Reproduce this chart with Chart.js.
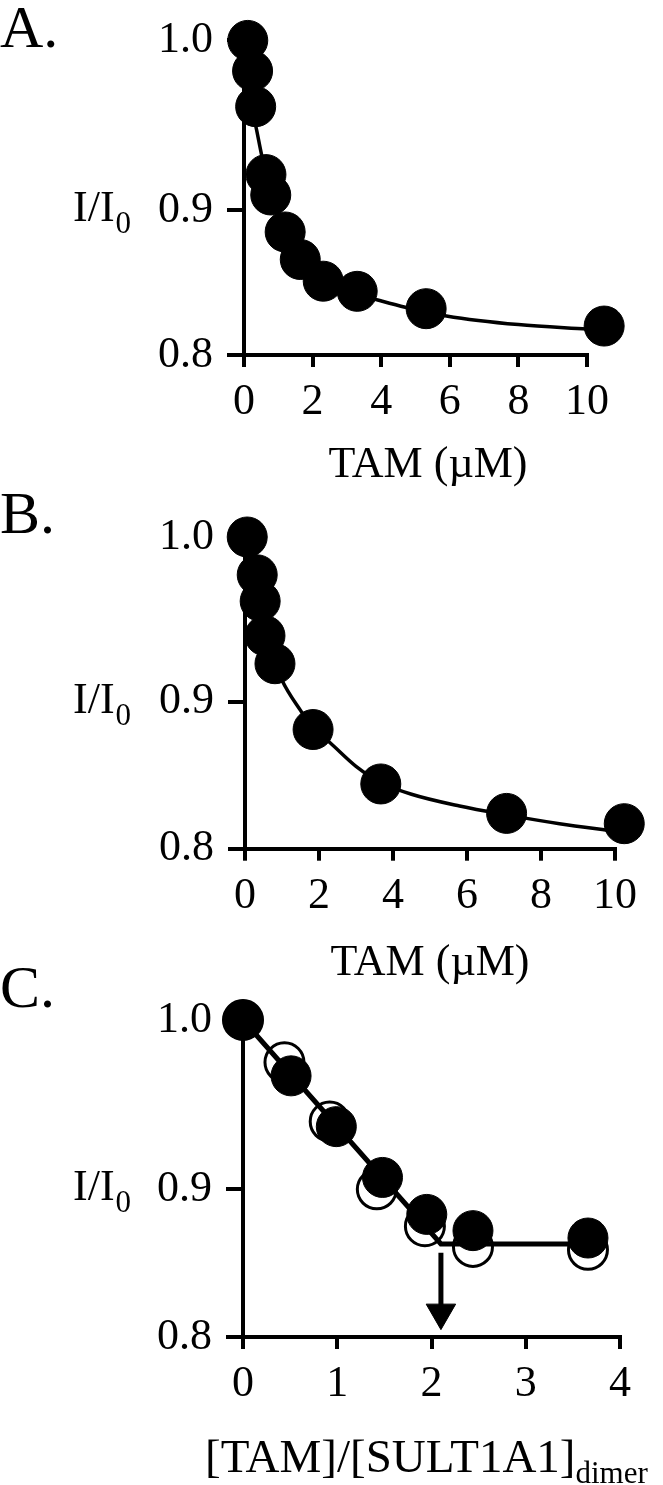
<!DOCTYPE html>
<html>
<head>
<meta charset="utf-8">
<style>
  body { margin: 0; background: #fff; }
  #wrap { position: relative; width: 663px; height: 1485px; overflow: hidden; background: #fff; }
  canvas { position: absolute; left: 0; }
</style>
</head>
<body>
<div id="wrap">
  <canvas id="chartA" width="663" height="490" style="top:0px"></canvas>
  <canvas id="chartB" width="663" height="510" style="top:480px"></canvas>
  <canvas id="chartC" width="663" height="535" style="top:950px"></canvas>
</div>

<script src="https://cdn.jsdelivr.net/npm/chart.js"></script>

<script>
    // tick labels
    const yTicks = [0.8, 0.9, 1.0];
    const xTicksAB = [0, 2, 4, 6, 8, 10];
    const xTicksC = [0, 1, 2, 3, 4];

    // panel A - TAM titration
    const tamA = [0.11, 0.25, 0.34, 0.64, 0.78, 1.2, 1.64, 2.31, 3.3, 5.31, 10.5];
    const ratioA = [1.000, 0.982, 0.961, 0.921, 0.909, 0.885, 0.866, 0.851, 0.844, 0.832, 0.820];
    const fitTamA = [0, 0.1, 0.2, 0.35, 0.52, 0.8, 1.2, 1.6, 2.3, 3.3, 3.9, 4.7, 5.9, 8.0, 10];
    const fitRatioA = [1.0, 0.976, 0.962, 0.949, 0.932, 0.909, 0.886, 0.869, 0.853, 0.842, 0.838, 0.833, 0.827, 0.821, 0.818];

    // panel B
    const tamB = [0.06, 0.33, 0.41, 0.54, 0.81, 1.84, 3.67, 7.07, 10.25];
    const ratioB = [1.000, 0.977, 0.961, 0.940, 0.923, 0.881, 0.844, 0.824, 0.817];
    const fitTamB = [0, 0.33, 0.54, 0.81, 1.0, 1.5, 1.84, 2.3, 3.0, 3.67, 4.5, 5.8, 7.07, 8.5, 10];
    const fitRatioB = [0.995, 0.974, 0.945, 0.924, 0.913, 0.894, 0.882, 0.872, 0.856, 0.845, 0.837, 0.829, 0.823, 0.817, 0.812];

    // panel C - [TAM]/[SULT1A1]dimer
    const eqFilledC = [0, 0.51, 0.99, 1.48, 1.95, 2.44, 3.66];
    const ratioFilledC = [1.000, 0.967, 0.937, 0.907, 0.883, 0.872, 0.867];
    const eqOpenC = [0, 0.44, 0.92, 1.42, 1.93, 2.44, 3.66];
    const ratioOpenC = [1.000, 0.975, 0.940, 0.900, 0.875, 0.861, 0.859];
    const segEqC = [0, 2.1, 3.66];
    const segRatioC = [1.0, 0.863, 0.863];
    const arrowEqC = [2.1, 2.1];
    const arrowRatioC = [0.857, 0.8165];

    const pts = (xs, ys) => xs.map((x, i) => ({ x: x, y: ys[i] }));

    Chart.defaults.font.family = '"Liberation Serif", "Times New Roman", serif';
    Chart.defaults.color = '#000';

    // the y axis in the figure is not even: 0.9-1.0 takes more room than 0.8-0.9
    class KneeScale extends Chart.LinearScale {
        static id = 'knee';
        decFor(v) {
            const k = this.options.knee, s = this.options.lowerShare;
            if (v <= k) return (v - this.min) / (k - this.min) * s;
            return s + (v - k) / (this.max - k) * (1 - s);
        }
        getPixelForValue(v) {
            if (v === null || isNaN(v)) return NaN;
            return this.getPixelForDecimal(this.decFor(v));
        }
        getValueForPixel(p) {
            const d = this.getDecimalForPixel(p), k = this.options.knee, s = this.options.lowerShare;
            return d <= s ? this.min + d / s * (k - this.min) : k + (d - s) / (1 - s) * (this.max - k);
        }
    }
    Chart.register(KneeScale);

    const panelText = {
        id: 'panelText',
        afterDraw(chart, args, o) {
            const ctx = chart.ctx;
            ctx.save();
            ctx.fillStyle = '#000';
            ctx.textBaseline = 'alphabetic';
            ctx.textAlign = 'left';
            ctx.font = '60px "Liberation Serif"';
            ctx.fillText(o.letter, 0, o.letterY);

            const yb = chart.scales.y.getPixelForValue(0.9) + 11;
            ctx.font = '44px "Liberation Serif"';
            ctx.fillText('I/I', 73, yb);
            const w = ctx.measureText('I/I').width;
            ctx.font = '31px "Liberation Serif"';
            ctx.fillText('0', 73 + w + 1, yb + 12);

            ctx.font = o.xSize + 'px "Liberation Serif"';
            const tw = ctx.measureText(o.xTitle).width;
            const left = o.xLeft !== undefined ? o.xLeft : o.xCenter - tw / 2;
            ctx.fillText(o.xTitle, left, o.xTitleY);
            if (o.xSub) {
                ctx.font = Math.round(o.xSize * 0.66) + 'px "Liberation Serif"';
                ctx.fillText(o.xSub, left + tw, o.xTitleY + 11);
            }
            ctx.restore();
        }
    };

    function makeChart(id, c) {
        const h = document.getElementById(id).height;
        return new Chart(document.getElementById(id), {
            type: 'scatter',
            data: { datasets: c.datasets },
            options: {
                responsive: false,
                animation: false,
                events: [],
                layout: { autoPadding: false, padding: { top: c.top, right: 663 - c.right, bottom: 0, left: 0 } },
                plugins: { legend: { display: false }, tooltip: { enabled: false }, panelText: c.text },
                scales: {
                    x: {
                        type: 'linear', min: 0, max: c.xMax,
                        afterFit: s => { s.height = h - c.bottom; },
                        afterBuildTicks: s => { s.ticks = c.xTicks.map(v => ({ value: v })); },
                        border: { color: '#000', width: 4 },
                        grid: { drawOnChartArea: false, color: '#000', lineWidth: 4, tickLength: 12 },
                        ticks: { padding: 9, font: { size: 44 }, color: '#000', maxRotation: 0, autoSkip: false }
                    },
                    y: {
                        type: 'knee', min: 0.8, max: 1.0, knee: 0.9, lowerShare: c.share,
                        afterFit: s => { s.width = c.left; },
                        afterBuildTicks: s => { s.ticks = yTicks.map(v => ({ value: v })); },
                        border: { color: '#000', width: 4 },
                        grid: { drawOnChartArea: false, color: '#000', lineWidth: 4, tickLength: 17 },
                        ticks: { padding: 14, font: { size: 44 }, color: '#000', callback: v => v.toFixed(1) }
                    }
                }
            },
            plugins: [panelText]
        });
    }

    const dots = (data) => ({
        data: data, showLine: false, pointRadius: 20, pointBackgroundColor: '#000',
        pointBorderColor: '#000', pointBorderWidth: 1, order: 0, clip: false
    });
    const curve = (data, width) => ({
        data: data, showLine: true, pointRadius: 0, borderColor: '#000', borderWidth: width,
        cubicInterpolationMode: 'monotone', order: 1, clip: false
    });

    makeChart('chartA', {
        top: 40, bottom: 355, left: 244, right: 587, share: 0.46, xMax: 10, xTicks: xTicksAB,
        datasets: [dots(pts(tamA, ratioA)), curve(pts(fitTamA, fitRatioA), 3.5)],
        text: { letter: 'A.', letterY: 47, xTitle: 'TAM (\u00b5M)', xSize: 44, xCenter: 428, xTitleY: 477 }
    });

    makeChart('chartB', {
        top: 57, bottom: 368.7, left: 245, right: 615, share: 0.472, xMax: 10, xTicks: xTicksAB,
        datasets: [dots(pts(tamB, ratioB)), curve(pts(fitTamB, fitRatioB), 3.5)],
        text: { letter: 'B.', letterY: 53, xTitle: 'TAM (\u00b5M)', xSize: 44, xCenter: 430, xTitleY: 495 }
    });

    makeChart('chartC', {
        top: 70, bottom: 387, left: 243, right: 620, share: 0.466, xMax: 4, xTicks: xTicksC,
        datasets: [
            dots(pts(eqFilledC, ratioFilledC)),
            {
                data: pts(segEqC, segRatioC), showLine: true, pointRadius: 0, borderColor: '#000',
                borderWidth: 5, tension: 0, order: 1, clip: false
            },
            {
                data: pts(eqOpenC, ratioOpenC), showLine: false, pointRadius: 19.5, pointBackgroundColor: '#fff',
                pointBorderColor: '#000', pointBorderWidth: 3, order: 2, clip: false
            },
            {
                data: pts(arrowEqC, arrowRatioC), showLine: true, borderColor: '#000', borderWidth: 5,
                pointStyle: 'triangle', pointRotation: 180, pointBackgroundColor: '#000', pointBorderColor: '#000',
                pointBorderWidth: 1, pointRadius: ctx => ctx.dataIndex === 1 ? 17 : 0, order: 1, clip: false
            }
        ],
        text: { letter: 'C.', letterY: 57, xTitle: '[TAM]/[SULT1A1]', xSub: 'dimer', xSize: 47, xLeft: 205, xTitleY: 522 }
    });
</script>
</body>
</html>
